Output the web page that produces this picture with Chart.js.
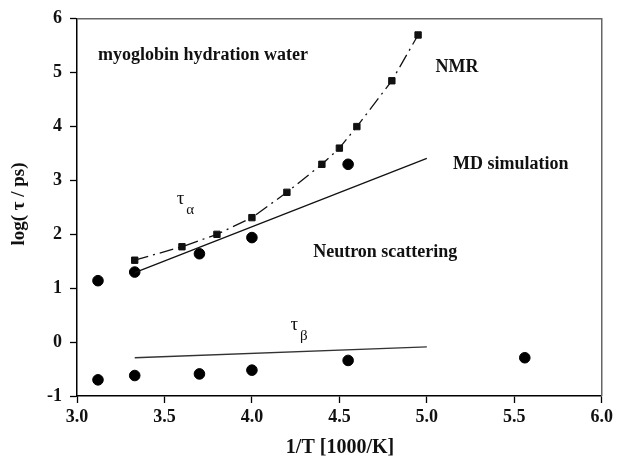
<!DOCTYPE html>
<html>
<head>
<meta charset="utf-8">
<script src="https://cdn.jsdelivr.net/npm/chart.js@4"></script>
<style>
  html, body { margin: 0; padding: 0; background: #fff; }
  #wrap { width: 617px; height: 461px; }
</style>
</head>
<body>
<div id="wrap"><canvas id="chart1"></canvas></div>
<script>
// NMR relaxation times (squares, dash-dot line)
var nmrX = [3.33, 3.60, 3.80, 4.00, 4.20, 4.40, 4.50, 4.60, 4.80, 4.95];
var nmrY = [1.52, 1.77, 2.00, 2.31, 2.78, 3.30, 3.60, 4.00, 4.85, 5.70];

// neutron scattering, tau alpha (circles)
var neutronAlphaX = [3.12, 3.33, 3.70, 4.00, 4.55];
var neutronAlphaY = [1.14, 1.30, 1.64, 1.94, 3.30];

// neutron scattering, tau beta (circles)
var neutronBetaX = [3.12, 3.33, 3.70, 4.00, 4.55, 5.56];
var neutronBetaY = [-0.70, -0.62, -0.59, -0.52, -0.34, -0.29];

// MD simulation lines
var mdAlphaX = [3.33, 5.00];
var mdAlphaY = [1.29, 3.41];
var mdBetaX = [3.33, 5.00];
var mdBetaY = [-0.29, -0.09];

var xTicks = [3.0, 3.5, 4.0, 4.5, 5.0, 5.5, 6.0];
var yTicks = [-1, 0, 1, 2, 3, 4, 5, 6];

var xTitle = '1/T [1000/K]';
var yTitle = 'log( \u03c4 / ps)';

// text labels inside the plot, anchored in data units (left, middle)
var notes = [
  { text: 'myoglobin hydration water', x: 3.12, y: 5.32 },
  { text: 'NMR', x: 5.05, y: 5.10 },
  { text: 'MD simulation', x: 5.15, y: 3.30 },
  { text: 'Neutron scattering', x: 4.35, y: 1.66 }
];
var tauNotes = [
  { sub: '\u03b1', x: 3.57, y: 2.65 },
  { sub: '\u03b2', x: 4.22, y: 0.31 }
];

function toPoints(xs, ys) {
  var pts = [];
  for (var i = 0; i < xs.length; i++) {
    pts.push({ x: xs[i], y: ys[i] });
  }
  return pts;
}

var serif = '"Liberation Serif", "Times New Roman", serif';

var textPlugin = {
  id: 'textPlugin',
  afterDraw: function(chart) {
    var ctx = chart.ctx;
    var xs = chart.scales.x, ys = chart.scales.y;
    var area = chart.chartArea;

    ctx.save();
    // frame top and right
    ctx.strokeStyle = '#666';
    ctx.lineWidth = 1.5;
    ctx.beginPath();
    ctx.moveTo(area.left, area.top);
    ctx.lineTo(area.right, area.top);
    ctx.lineTo(area.right, area.bottom);
    ctx.stroke();

    ctx.fillStyle = '#111';
    ctx.textBaseline = 'middle';
    ctx.textAlign = 'left';
    ctx.font = 'bold 18px ' + serif;
    notes.forEach(function(n) {
      ctx.fillText(n.text, xs.getPixelForValue(n.x), ys.getPixelForValue(n.y));
    });

    tauNotes.forEach(function(n) {
      var px = xs.getPixelForValue(n.x), py = ys.getPixelForValue(n.y);
      ctx.font = '19px ' + serif;
      ctx.fillText('\u03c4', px, py);
      var w = ctx.measureText('\u03c4').width;
      ctx.font = '15px ' + serif;
      ctx.fillText(n.sub, px + w + 2, py + 11);
    });

    // axis titles
    ctx.font = 'bold 20px ' + serif;
    ctx.textAlign = 'center';
    ctx.fillText(xTitle, 340, 448);
    ctx.translate(19, 204);
    ctx.rotate(-Math.PI / 2);
    ctx.font = 'bold 19px ' + serif;
    ctx.fillText(yTitle, 0, 0);
    ctx.restore();
  }
};

function printChart(id) {
  var ctx = document.getElementById(id).getContext('2d');
  var chart = new Chart(ctx, {
    type: 'scatter',
    data: {
      datasets: [
        {
          label: 'NMR',
          data: toPoints(nmrX, nmrY),
          showLine: true,
          borderColor: '#111',
          backgroundColor: '#111',
          borderWidth: 1.3,
          borderDash: [14, 5, 2, 5],
          pointStyle: 'rect',
          pointRadius: 4.5,
          pointBorderWidth: 1,
          pointBackgroundColor: '#111',
          pointBorderColor: '#111'
        },
        {
          label: 'MD alpha',
          data: toPoints(mdAlphaX, mdAlphaY),
          showLine: true,
          borderColor: '#111',
          borderWidth: 1.3,
          pointRadius: 0
        },
        {
          label: 'MD beta',
          data: toPoints(mdBetaX, mdBetaY),
          showLine: true,
          borderColor: '#333',
          borderWidth: 1.3,
          pointRadius: 0
        },
        {
          label: 'Neutron alpha',
          data: toPoints(neutronAlphaX, neutronAlphaY),
          showLine: false,
          pointRadius: 5.3,
          pointBorderWidth: 1,
          pointBackgroundColor: '#000',
          pointBorderColor: '#000'
        },
        {
          label: 'Neutron beta',
          data: toPoints(neutronBetaX, neutronBetaY),
          showLine: false,
          pointRadius: 5.3,
          pointBorderWidth: 1,
          pointBackgroundColor: '#000',
          pointBorderColor: '#000'
        }
      ]
    },
    options: {
      responsive: true,
      maintainAspectRatio: false,
      animation: false,
      layout: { padding: { left: 0, top: 16, right: 13, bottom: 0 } },
      plugins: {
        legend: { display: false },
        tooltip: { enabled: false }
      },
      scales: {
        x: {
          type: 'linear',
          min: 3,
          max: 6,
          afterFit: function(scale) { scale.height = 65; },
          afterBuildTicks: function(scale) {
            scale.ticks = xTicks.map(function(v) { return { value: v }; });
          },
          grid: { drawOnChartArea: false, drawTicks: true, tickLength: 7, color: '#000', tickWidth: 1.3 },
          border: { color: '#000', width: 1.5 },
          ticks: {
            padding: 4,
            color: '#111',
            font: { family: serif, size: 18, weight: 'bold' },
            callback: function(v) { return Number(v).toFixed(1); }
          }
        },
        y: {
          type: 'linear',
          min: -1,
          max: 6,
          afterFit: function(scale) { scale.width = 77; },
          afterBuildTicks: function(scale) {
            scale.ticks = yTicks.map(function(v) { return { value: v }; });
          },
          grid: { drawOnChartArea: false, drawTicks: true, tickLength: 7, color: '#000', tickWidth: 1.3 },
          border: { color: '#000', width: 1.5 },
          ticks: {
            padding: 8,
            color: '#111',
            font: { family: serif, size: 18, weight: 'bold' },
            callback: function(v) { return String(v); }
          }
        }
      }
    },
    plugins: [textPlugin]
  });
  return chart;
}

printChart('chart1');
</script>
</body>
</html>
